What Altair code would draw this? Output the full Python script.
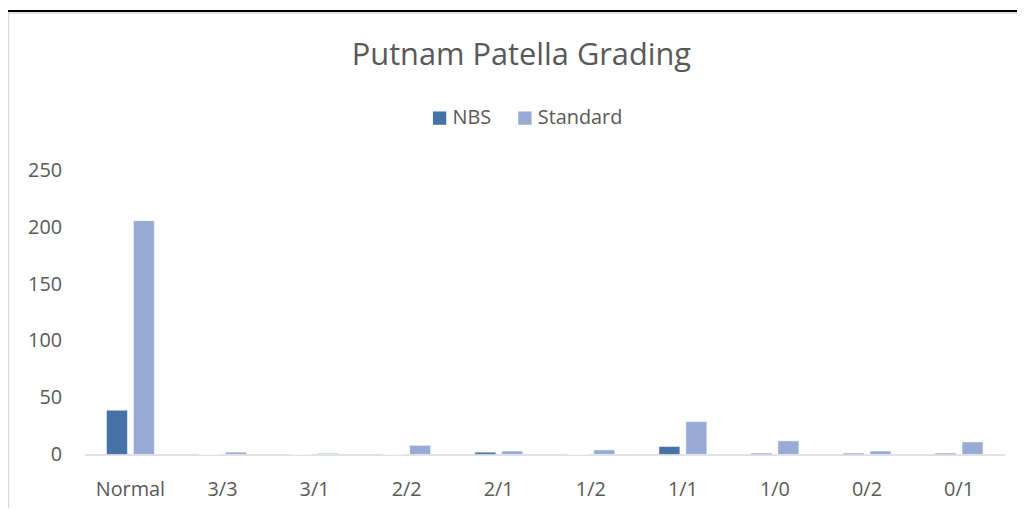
import altair as alt
import pandas as pd

categories = ["Normal", "3/3", "3/1", "2/2", "2/1", "1/2", "1/1", "1/0", "0/2", "0/1"]
nbs = [39, 0, 0, 0, 2, 0, 7, 1, 1, 1]
standard = [206, 2, 1, 8, 3, 4, 29, 12, 3, 11]
series = ["NBS", "Standard"]
colors = ["#4672A8", "#97ABD4"]
title_text = ["Putnam Patella Grading"]

rows = []
for c, a, b in zip(categories, nbs, standard):
    rows.append({"grade": c, "series": "NBS", "value": a})
    rows.append({"grade": c, "series": "Standard", "value": b})
df = pd.DataFrame(rows)

FONT = "Open Sans"
TXT = "#595959"

bars = alt.Chart(df).mark_bar(stroke="white", strokeWidth=0.5).encode(
    x=alt.X("grade:N", sort=categories, title=None,
            scale=alt.Scale(paddingInner=0.48, paddingOuter=0.24),
            axis=alt.Axis(labelAngle=0, ticks=False, domainColor="#D9D9D9", domainWidth=1.5,
                          labelFont=FONT, labelFontSize=20, labelColor=TXT, labelPadding=25,
                          grid=False)),
    xOffset=alt.XOffset("series:N", sort=series,
                        scale=alt.Scale(paddingInner=0.222, paddingOuter=0)),
    y=alt.Y("value:Q", title=None,
            scale=alt.Scale(domain=[0, 250], nice=False),
            axis=alt.Axis(values=[0, 50, 100, 150, 200, 250], domain=False, ticks=False, grid=False,
                          labelFont=FONT, labelFontSize=20, labelColor=TXT, labelPadding=23)),
    color=alt.Color("series:N", sort=series,
                    scale=alt.Scale(domain=series, range=colors),
                    legend=alt.Legend(title=None, orient="none", direction="horizontal",
                                      legendX=348, legendY=-63,
                                      symbolType="square", symbolSize=180, symbolStrokeWidth=0,
                                      labelFont=FONT, labelFontSize=20, labelColor=TXT,
                                      labelOffset=3, columnPadding=24)),
)

title = alt.Chart(pd.DataFrame({"t": title_text})).mark_text(
    font=FONT, fontSize=31, color=TXT, align="center", baseline="alphabetic"
).encode(text="t:N", x=alt.value(440.5), y=alt.value(-107))

# decorative page lines (document table border and chart frame)
one = pd.DataFrame({"k": [0]})
black_line = alt.Chart(one).mark_rule(color="black", strokeWidth=2).encode(
    x=alt.value(-77), x2=alt.value(940), y=alt.value(-161))
frame_h = alt.Chart(one).mark_rule(color="#D9D9D9", strokeWidth=1.5).encode(
    x=alt.value(-77), x2=alt.value(940), y=alt.value(-159))
frame_v = alt.Chart(one).mark_rule(color="#D9D9D9", strokeWidth=1.5).encode(
    x=alt.value(-76.5), y=alt.value(-159), y2=alt.value(340))

chart = alt.layer(bars, title, black_line, frame_h, frame_v).properties(
    width=928, height=286,
    autosize=alt.AutoSizeParams(type="none"),
    padding={"left": 77, "top": 162, "right": 12, "bottom": 54},
    background="white",
).configure_view(stroke=None)

chart.save("out.html", embed_options={"renderer": "svg", "actions": False})
